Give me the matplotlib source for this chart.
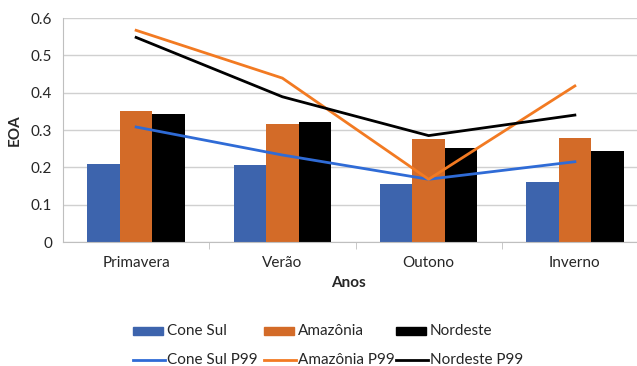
import numpy as np
import matplotlib
matplotlib.use("Agg")
import matplotlib.pyplot as plt
from matplotlib.patches import Rectangle
from matplotlib.lines import Line2D

plt.rcParams['font.family'] = ['Lato', 'DejaVu Sans']

seasons = ["Primavera", "Verão", "Outono", "Inverno"]
bar_names = ["Cone Sul", "Amazônia", "Nordeste"]
cone_sul = [0.209, 0.207, 0.156, 0.160]
amazonia = [0.351, 0.317, 0.276, 0.278]
nordeste = [0.344, 0.322, 0.251, 0.244]
line_names = ["Cone Sul P99", "Amazônia P99", "Nordeste P99"]
cone_sul_p99 = [0.308, 0.233, 0.168, 0.215]
amazonia_p99 = [0.567, 0.439, 0.168, 0.418]
nordeste_p99 = [0.548, 0.389, 0.285, 0.340]

bar_colors = ["#3d64ad", "#d36b28", "#000000"]
line_colors = ["#2f6bd6", "#f27a22", "#000000"]

W, H = 637, 366
fig = plt.figure(figsize=(W / 100, H / 100), dpi=100)
ax = fig.add_axes([63 / W, (H - 242) / H, (648 - 63) / W, (242 - 18) / H])

x = np.arange(len(seasons))
bw = 0.222
for i, (vals, col) in enumerate(zip([cone_sul, amazonia, nordeste], bar_colors)):
    ax.bar(x + (i - 1) * bw, vals, width=bw, color=col, zorder=2)
for vals, col in zip([cone_sul_p99, amazonia_p99, nordeste_p99], line_colors):
    ax.plot(x, vals, color=col, lw=2, zorder=3)

fs = 11
ax.set_xlim(-0.5, 3.5)
ax.set_ylim(0, 0.6)
ax.set_yticks(np.arange(0, 0.61, 0.1))
ax.set_yticklabels(["0", "0.1", "0.2", "0.3", "0.4", "0.5", "0.6"])
ax.set_xticks(x)
ax.set_xticklabels(seasons)
ax.set_xticks(np.arange(0.5, 3.5, 1.0), minor=True)
ax.tick_params(axis='x', which='major', length=0, pad=10, labelsize=fs, colors="#262626")
ax.tick_params(axis='x', which='minor', length=5, color="#bfbfbf", direction='out')
ax.tick_params(axis='y', length=0, pad=8, labelsize=fs, colors="#262626")
ax.grid(axis='y', color="#d0d0d0", lw=1, zorder=0)
for s in ['top', 'right']:
    ax.spines[s].set_visible(False)
ax.spines['left'].set_color("#bfbfbf")
ax.spines['bottom'].set_color("#bfbfbf")

ax.set_ylabel("EOA", fontsize=fs, fontweight='bold', color="#262626", labelpad=6)
fig.text(348 / W, 1 - 283 / H, "Anos", ha='center', va='center',
         fontsize=fs, fontweight='bold', color="#262626")

# legend laid out in two rows
col_x = [133, 264, 396]
row_y = [331, 360]
for i in range(3):
    x0 = col_x[i]
    fig.add_artist(Rectangle((x0 / W, 1 - (row_y[0] + 4) / H), 30 / W, 8 / H,
                             transform=fig.transFigure, color=bar_colors[i]))
    fig.text((x0 + 34) / W, 1 - row_y[0] / H, bar_names[i], ha='left', va='center',
             fontsize=fs, color="#262626")
    fig.add_artist(Line2D([x0 / W, (x0 + 32) / W], [1 - row_y[1] / H] * 2,
                          transform=fig.transFigure, color=line_colors[i], lw=2))
    fig.text((x0 + 34) / W, 1 - row_y[1] / H, line_names[i], ha='left', va='center',
             fontsize=fs, color="#262626")

fig.savefig("out.png", dpi=100)
